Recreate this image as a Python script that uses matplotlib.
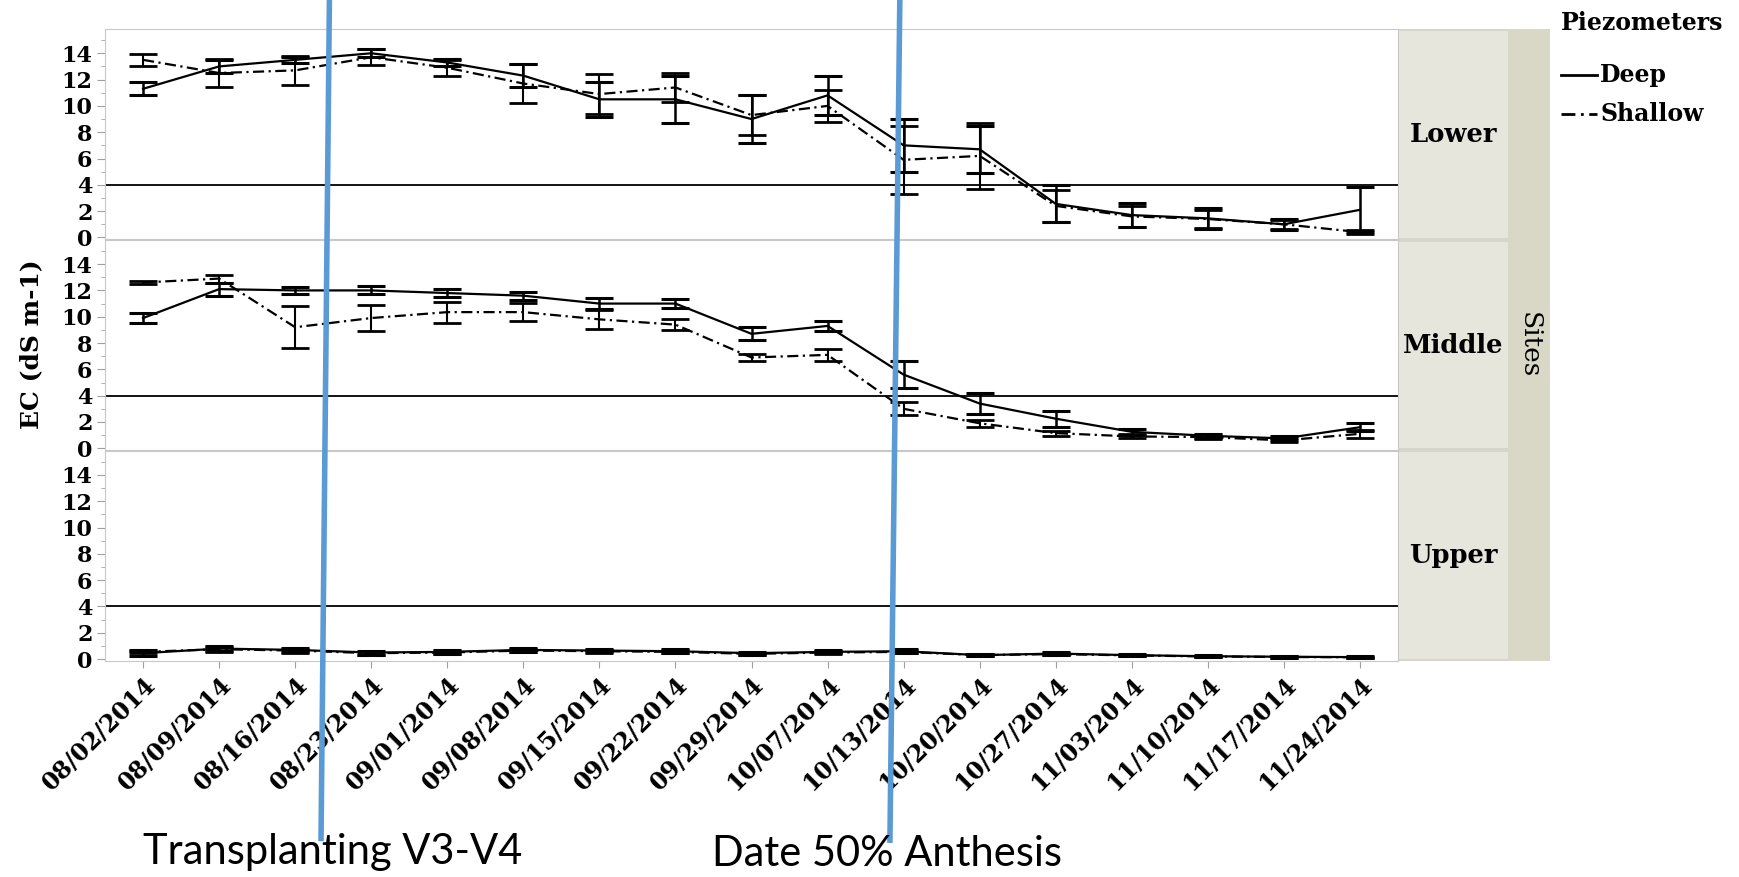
import numpy as np
import matplotlib
matplotlib.use('Agg')
import matplotlib.pyplot as plt
from matplotlib.lines import Line2D
from matplotlib.transforms import blended_transform_factory

# dates sampled (categorical axis)
dates = ['08/02/2014', '08/09/2014', '08/16/2014', '08/23/2014', '09/01/2014',
         '09/08/2014', '09/15/2014', '09/22/2014', '09/29/2014', '10/07/2014',
         '10/13/2014', '10/20/2014', '10/27/2014', '11/03/2014', '11/10/2014',
         '11/17/2014', '11/24/2014']
sites = ['Lower', 'Middle', 'Upper']
piezometers = ['Deep', 'Shallow']

# EC means and error bars
lower_deep = [11.3, 13.0, 13.5, 14.0, 13.3, 12.3, 10.5, 10.5, 9.0, 10.8, 7.0, 6.7, 2.55, 1.7, 1.45, 1.0, 2.1]
lower_deep_err = [0.5, 0.5, 0.25, 0.3, 0.3, 0.9, 1.35, 1.8, 1.8, 1.5, 2.0, 1.8, 1.4, 0.9, 0.8, 0.4, 1.7]
lower_shallow = [13.5, 12.5, 12.7, 13.7, 12.9, 11.7, 10.9, 11.4, 9.3, 10.0, 5.9, 6.2, 2.4, 1.6, 1.4, 1.0, 0.4]
lower_shallow_err = [0.45, 1.1, 1.1, 0.6, 0.6, 1.5, 1.5, 1.1, 1.5, 1.2, 2.6, 2.5, 1.2, 0.8, 0.7, 0.35, 0.15]

middle_deep = [9.9, 12.1, 12.0, 12.0, 11.8, 11.6, 11.0, 11.0, 8.7, 9.3, 5.6, 3.4, 2.25, 1.25, 0.95, 0.75, 1.6]
middle_deep_err = [0.4, 0.5, 0.25, 0.3, 0.3, 0.3, 0.4, 0.35, 0.5, 0.4, 1.0, 0.8, 0.6, 0.25, 0.15, 0.15, 0.3]
middle_shallow = [12.6, 12.9, 9.2, 9.9, 10.35, 10.35, 9.8, 9.4, 6.9, 7.1, 3.0, 1.9, 1.15, 0.9, 0.85, 0.6, 1.1]
middle_shallow_err = [0.1, 0.3, 1.6, 1.0, 0.8, 0.7, 0.7, 0.4, 0.25, 0.45, 0.5, 0.25, 0.2, 0.15, 0.15, 0.15, 0.3]

upper_deep = [0.45, 0.8, 0.7, 0.5, 0.55, 0.7, 0.65, 0.6, 0.45, 0.55, 0.6, 0.3, 0.42, 0.3, 0.22, 0.18, 0.15]
upper_deep_err = [0.25, 0.2, 0.15, 0.15, 0.15, 0.15, 0.12, 0.15, 0.12, 0.12, 0.15, 0.1, 0.1, 0.08, 0.08, 0.06, 0.06]
upper_shallow = [0.55, 0.75, 0.65, 0.45, 0.5, 0.65, 0.6, 0.55, 0.4, 0.5, 0.55, 0.3, 0.38, 0.28, 0.2, 0.16, 0.14]
upper_shallow_err = [0.1, 0.2, 0.15, 0.12, 0.12, 0.12, 0.1, 0.12, 0.1, 0.1, 0.12, 0.08, 0.08, 0.06, 0.06, 0.05, 0.05]

deep = [lower_deep, middle_deep, upper_deep]
deep_err = [lower_deep_err, middle_deep_err, upper_deep_err]
shallow = [lower_shallow, middle_shallow, upper_shallow]
shallow_err = [lower_shallow_err, middle_shallow_err, upper_shallow_err]

threshold = 4
# blue annotation lines (category position at top and bottom of the line)
transplant_x = [2.45, 2.34]
anthesis_x = [9.95, 9.82]

plt.rcParams['font.family'] = 'DejaVu Serif'
dashdot = (0, (5, 2, 1, 2))
W, H = 1739, 877

fig = plt.figure(figsize=(17.39, 8.77), dpi=100)
x = np.arange(len(dates))

left, width, h = 0.0604, 0.7435, 0.2400
bottoms = [0.7270, 0.4866, 0.2462]

# background behind the strips (shows in the gaps between them)
bg = fig.add_axes([0.8045, 0.2462, 0.0869, 0.7208])
bg.set_facecolor('#D6D6CC')
bg.set_xticks([])
bg.set_yticks([])
for sp in bg.spines.values():
    sp.set_visible(False)

axes = []
for i, b in enumerate(bottoms):
    ax = fig.add_axes([left, b, width, h])
    axes.append(ax)
    ax.errorbar(x, deep[i], yerr=deep_err[i], color='black', lw=1.6,
                elinewidth=1.8, capsize=10, capthick=2.2)
    ax.errorbar(x, shallow[i], yerr=shallow_err[i], color='black', lw=1.6,
                ls=dashdot, elinewidth=1.5, capsize=10, capthick=2)
    ax.axhline(threshold, color='black', lw=1.3)
    ax.set_xlim(-0.5, 16.5)
    ax.set_ylim(-0.15, 15.85)
    ax.set_yticks(np.arange(0, 15, 2))
    ax.set_yticks(np.arange(1, 16, 2), minor=True)
    ax.tick_params(axis='y', which='major', length=6, color='#A0A0A0', labelsize=16, pad=3)
    ax.tick_params(axis='y', which='minor', length=3, color='#A0A0A0')
    for lab in ax.get_yticklabels():
        lab.set_fontweight('bold')
    for sp in ax.spines.values():
        sp.set_color('#C8C8C8')
    ax.set_xticks(x)
    ax.tick_params(axis='x', length=5, color='#A0A0A0')
    if i < 2:
        ax.set_xticklabels([])
    else:
        ax.set_xticklabels(dates, rotation=45, ha='right', rotation_mode='anchor',
                           fontsize=17, fontweight='bold')

    # strip with site name
    sax = fig.add_axes([0.8045, b + 0.002, 0.0627, h - 0.004])
    sax.set_facecolor('#E6E6DD')
    sax.set_xticks([])
    sax.set_yticks([])
    for sp in sax.spines.values():
        sp.set_visible(False)
    sax.text(0.5, 0.5, sites[i], ha='center', va='center', fontsize=18.5,
             fontweight='bold', transform=sax.transAxes)

oax = fig.add_axes([0.8672, 0.2462, 0.0242, 0.7208])
oax.set_facecolor('#D9D8C7')
oax.set_xticks([])
oax.set_yticks([])
for sp in oax.spines.values():
    sp.set_visible(False)
oax.text(0.5, 0.5, 'Sites', rotation=-90, ha='center', va='center', fontsize=19,
         transform=oax.transAxes)

fig.text(0.018, 0.608, 'EC (dS m-1)', rotation=90, ha='center', va='center',
         fontsize=18, fontweight='bold')

# legend
fig.text(1561 / W, 1 - 23 / H, 'Piezometers', ha='left', va='center',
         fontsize=17, fontweight='bold')
legend_styles = ['-', dashdot]
legend_rows = [1 - 75 / H, 1 - 114 / H]
for name, style, yy in zip(piezometers, legend_styles, legend_rows):
    fig.add_artist(Line2D([1561 / W, 1597 / W], [yy, yy], transform=fig.transFigure,
                          color='black', lw=2, ls=style))
    fig.text(1600 / W, yy, name, ha='left', va='center', fontsize=17, fontweight='bold')

# blue marker lines for crop stages
trans = blended_transform_factory(axes[0].transData, fig.transFigure)
fig.add_artist(Line2D(transplant_x, [1.0, 0.044], transform=trans, color='#5B9BD5', lw=4))
fig.add_artist(Line2D(anthesis_x, [1.0, 0.042], transform=trans, color='#5B9BD5', lw=4))
fig.text(0.1915, 0.028, 'Transplanting V3-V4', family='Lato', fontsize=30,
         ha='center', va='center')
fig.text(0.5100, 0.026, 'Date 50% Anthesis', family='Lato', fontsize=30,
         ha='center', va='center')

fig.savefig('out.png', dpi=100)
